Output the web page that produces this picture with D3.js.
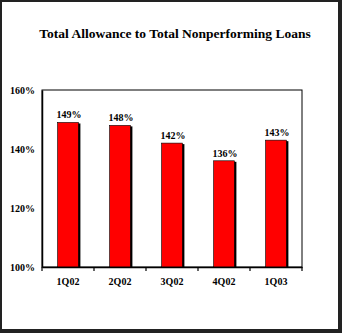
<!DOCTYPE html>
<html>
<head>
<meta charset="utf-8">
<script src="https://cdn.jsdelivr.net/npm/d3@7"></script>
<style>
  body { margin: 0; background: #fff; }
  svg { display: block; }
</style>
</head>
<body>
<div id="chart"></div>
<script>
const quarters = ['1Q02', '2Q02', '3Q02', '4Q02', '1Q03'];
const ratios = [149, 148, 142, 136, 143];
const yTicks = [100, 120, 140, 160];

const width = 342, height = 333;
const margin = { left: 42, right: 40, top: 90, bottom: 66 };
const font = '"Liberation Serif", "Times New Roman", serif';

const svg = d3.select('#chart').append('svg')
  .attr('width', width)
  .attr('height', height)
  .attr('font-family', font)
  .attr('font-weight', 'bold');

// outer frame with heavier right/bottom edge
svg.append('rect')
  .attr('x', 0).attr('y', 0)
  .attr('width', width).attr('height', height)
  .attr('fill', '#222');
svg.append('rect')
  .attr('x', 2).attr('y', 2)
  .attr('width', width - 6).attr('height', height - 6)
  .attr('fill', '#fff');

svg.append('text')
  .attr('x', 175)
  .attr('y', 38)
  .attr('text-anchor', 'middle')
  .attr('font-size', '13.5px')
  .text('Total Allowance to Total Nonperforming Loans');

const x = d3.scaleBand()
  .domain(quarters)
  .range([margin.left, width - margin.right])
  .paddingInner(0.6)
  .paddingOuter(0.3);

const y = d3.scaleLinear()
  .domain([100, 160])
  .range([height - margin.bottom, margin.top]);

const g = svg.append('g');

// plot frame
g.append('rect')
  .attr('x', margin.left)
  .attr('y', margin.top)
  .attr('width', width - margin.right - margin.left)
  .attr('height', y(100) - y(160))
  .attr('fill', 'none')
  .attr('stroke', '#000')
  .attr('stroke-width', 1);

// bar shadows
g.selectAll('.shadow')
  .data(ratios)
  .join('rect')
  .attr('class', 'shadow')
  .attr('x', (d, i) => x(quarters[i]) + 2)
  .attr('y', d => y(d) + 1)
  .attr('width', x.bandwidth())
  .attr('height', d => y(100) - y(d) - 1)
  .attr('fill', '#000');

g.selectAll('.bar')
  .data(ratios)
  .join('rect')
  .attr('class', 'bar')
  .attr('x', (d, i) => x(quarters[i]))
  .attr('y', d => y(d))
  .attr('width', x.bandwidth())
  .attr('height', d => y(100) - y(d))
  .attr('fill', '#ff0000')
  .attr('stroke', '#000')
  .attr('stroke-width', 0.6);

g.selectAll('.val')
  .data(ratios)
  .join('text')
  .attr('class', 'val')
  .attr('x', (d, i) => x(quarters[i]) + x.bandwidth() / 2 + 1)
  .attr('y', d => y(d) - 4)
  .attr('text-anchor', 'middle')
  .attr('font-size', '10px')
  .text(d => d + '%');

// x axis
const xAxis = g.append('g')
  .attr('transform', `translate(0,${y(100)})`)
  .call(d3.axisBottom(x).tickSize(0).tickPadding(11));
xAxis.select('.domain').attr('stroke', '#000').attr('stroke-width', 1.5);
xAxis.selectAll('text')
  .attr('font-family', font)
  .attr('font-weight', 'bold')
  .attr('font-size', '10px')
  .attr('fill', '#000');

// category separators below the axis
const step = x.step();
d3.range(quarters.length + 1).forEach(i => {
  const xx = margin.left + i * (width - margin.right - margin.left) / quarters.length;
  g.append('line')
    .attr('x1', xx).attr('x2', xx)
    .attr('y1', y(100)).attr('y2', y(100) + 4)
    .attr('stroke', '#000')
    .attr('stroke-width', 1.2);
});

// y axis
const yAxis = g.append('g')
  .attr('transform', `translate(${margin.left},0)`)
  .call(d3.axisLeft(y).tickValues(yTicks).tickSize(0).tickPadding(7).tickFormat(d => d + '%'));
yAxis.select('.domain').attr('stroke', '#000').attr('stroke-width', 1.5);
yAxis.selectAll('text')
  .attr('font-family', font)
  .attr('font-weight', 'bold')
  .attr('font-size', '10px')
  .attr('fill', '#000');
</script>
</body>
</html>
